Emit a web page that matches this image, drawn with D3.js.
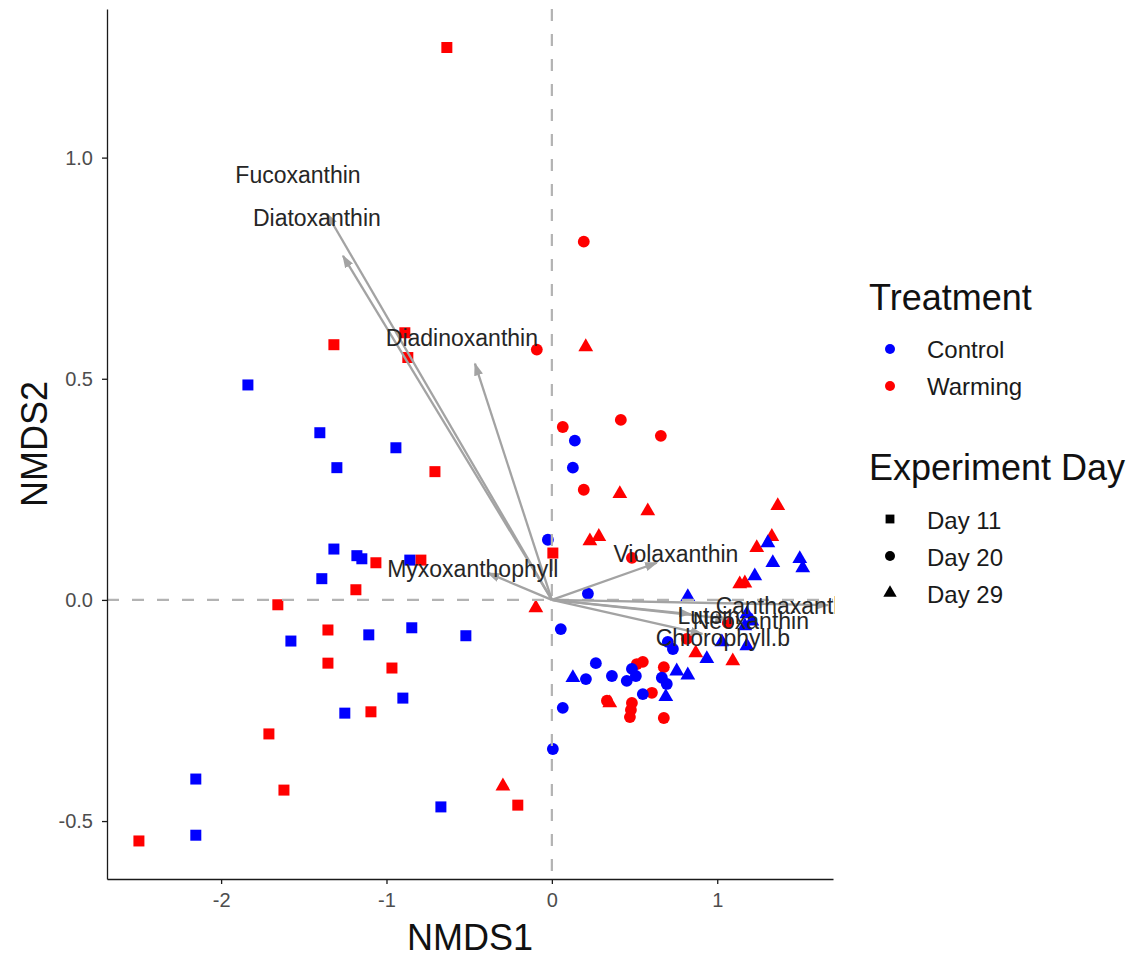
<!DOCTYPE html>
<html lang="en">
<head>
  <meta charset="UTF-8">
  <title>NMDS of pigments</title>
  <script src="https://d3js.org/d3.v7.min.js"></script>
  <style>
    body {
      margin: 0;
      background-color: #ffffff;
      font-family: "Liberation Sans", Arial, sans-serif;
    }
    .tick text {
      fill: #4d4d4d;
      font-size: 20px;
    }
    .domain, .tick line {
      stroke: #1a1a1a;
      stroke-width: 1.3px;
    }
  </style>
</head>
<body>

<div id="chart"></div>

<script>
  // ---- data (NMDS scores) ----
  // each point: [NMDS1, NMDS2]
  const day11Warming = [
    [-0.635, 1.249], [-1.318, 0.577], [-0.889, 0.604], [-0.871, 0.548], [-0.707, 0.290],
    [-0.792, 0.090], [-1.064, 0.084], [-1.185, 0.023], [-1.657, -0.011], [0.006, 0.106],
    [-1.354, -0.068], [-1.354, -0.143], [-0.967, -0.154], [-1.094, -0.253], [-1.711, -0.303],
    [-1.620, -0.430], [-2.497, -0.545], [-0.206, -0.464]
  ];
  const day11Control = [
    [-1.838, 0.486], [-1.403, 0.378], [-0.943, 0.344], [-1.300, 0.299], [-1.318, 0.115],
    [-1.179, 0.100], [-1.149, 0.093], [-0.859, 0.090], [-1.391, 0.048], [-1.578, -0.093],
    [-1.107, -0.079], [-0.847, -0.063], [-0.520, -0.081], [-0.901, -0.222], [-1.252, -0.256],
    [-2.153, -0.405], [-2.153, -0.532], [-0.671, -0.468]
  ];
  const day20Warming = [
    [0.193, 0.810], [-0.091, 0.566], [0.066, 0.391], [0.417, 0.407], [0.659, 0.371],
    [0.193, 0.249], [0.484, 0.095], [0.514, -0.145], [0.550, -0.140], [0.677, -0.152],
    [0.605, -0.210], [0.333, -0.228], [0.484, -0.233], [0.478, -0.249], [0.472, -0.265],
    [0.677, -0.267], [0.816, -0.088], [1.064, -0.052]
  ];
  const day20Control = [
    [0.139, 0.360], [0.127, 0.299], [-0.024, 0.136], [0.218, 0.014], [0.054, -0.066],
    [0.266, -0.143], [0.206, -0.179], [0.363, -0.172], [0.484, -0.156], [0.508, -0.172],
    [0.453, -0.183], [0.550, -0.213], [0.665, -0.176], [0.695, -0.190], [0.701, -0.095],
    [0.732, -0.111], [0.066, -0.244], [0.006, -0.337]
  ];
  const day29Warming = [
    [0.205, 0.572], [0.411, 0.240], [0.580, 0.201], [0.230, 0.133], [0.284, 0.143],
    [-0.097, -0.018], [-0.296, -0.421], [1.366, 0.213], [1.330, 0.143], [1.239, 0.118],
    [1.136, 0.036], [1.167, 0.038], [0.870, -0.120], [1.094, -0.138], [0.350, -0.233]
  ];
  const day29Control = [
    [0.127, -0.176], [0.755, -0.161], [0.822, -0.170], [0.689, -0.219], [0.937, -0.133],
    [0.822, 0.007], [1.306, 0.129], [1.336, 0.084], [1.499, 0.093], [1.517, 0.072],
    [1.227, 0.054], [1.179, -0.032], [1.209, -0.048], [1.167, -0.059], [1.179, -0.104],
    [1.028, -0.095]
  ];

  // pigment vectors: arrow tip and label position
  const pigments = ["Fucoxanthin", "Diatoxanthin", "Diadinoxanthin", "Myxoxanthophyll",
    "Violaxanthin", "Canthaxanthin", "Lutein", "Neoxanthin", "Chlorophyll.b"];
  const arrowTips = [
    [-1.360, 0.873], [-1.263, 0.778], [-0.465, 0.534], [-0.387, 0.061],
    [0.635, 0.084], [1.670, -0.012], [0.840, -0.032], [1.060, -0.043], [0.910, -0.077]
  ];
  const labelPos = [
    [-1.535, 0.962], [-1.421, 0.864], [-0.544, 0.593], [-0.478, 0.070],
    [0.750, 0.104], [1.439, -0.014], [0.949, -0.036], [1.203, -0.048], [1.034, -0.086]
  ];

  const treatments = ["Control", "Warming"];
  const days = ["Day 11", "Day 20", "Day 29"];
  const xTicks = [-2, -1, 0, 1];
  const yTicks = [-0.5, 0.0, 0.5, 1.0];

  // ---- layout ----
  const width = 1131;
  const height = 957;
  const margin = { left: 107, right: 298, top: 9, bottom: 78 };

  const svg = d3.select("#chart")
    .append("svg")
    .attr("width", width)
    .attr("height", height);

  const x = d3.scaleLinear()
    .domain([-2.69, 1.70])
    .range([margin.left, width - margin.right]);
  const y = d3.scaleLinear()
    .domain([-0.631, 1.336])
    .range([height - margin.bottom, margin.top]);

  const color = d3.scaleOrdinal().domain(treatments).range(["#0000ff", "#ff0000"]);
  const shape = d3.scaleOrdinal().domain(days)
    .range([d3.symbolSquare, d3.symbolCircle, d3.symbolTriangle]);
  const shapeSize = d3.scaleOrdinal().domain(days).range([121, 110, 95]);

  const defs = svg.append("defs");
  defs.append("clipPath")
    .attr("id", "panel")
    .append("rect")
    .attr("x", margin.left)
    .attr("y", margin.top)
    .attr("width", width - margin.left - margin.right + 2)
    .attr("height", height - margin.top - margin.bottom);

  const groups = [
    { t: "Warming", d: "Day 11", pts: day11Warming },
    { t: "Control", d: "Day 11", pts: day11Control },
    { t: "Warming", d: "Day 20", pts: day20Warming },
    { t: "Control", d: "Day 20", pts: day20Control },
    { t: "Warming", d: "Day 29", pts: day29Warming },
    { t: "Control", d: "Day 29", pts: day29Control }
  ];
  const points = groups.flatMap(g => g.pts.map(p => ({ x: p[0], y: p[1], t: g.t, d: g.d })));

  const panel = svg.append("g").attr("clip-path", "url(#panel)");

  // points
  panel.selectAll("path.pt")
    .data(points)
    .enter()
    .append("path")
    .attr("class", "pt")
    .attr("transform", d => `translate(${x(d.x)},${y(d.y)})`)
    .attr("d", d => d3.symbol().type(shape(d.d)).size(shapeSize(d.d))())
    .attr("fill", d => color(d.t));

  // zero lines
  panel.append("line")
    .attr("x1", x(0)).attr("x2", x(0))
    .attr("y1", margin.top).attr("y2", height - margin.bottom)
    .attr("stroke", "#b3b3b3").attr("stroke-width", 2.2)
    .attr("stroke-dasharray", "12,13");
  panel.append("line")
    .attr("x1", margin.left).attr("x2", width - margin.right)
    .attr("y1", y(0)).attr("y2", y(0))
    .attr("stroke", "#b3b3b3").attr("stroke-width", 2.2)
    .attr("stroke-dasharray", "12,13");

  // arrows
  defs.append("marker")
    .attr("id", "head")
    .attr("viewBox", "0 0 10 10")
    .attr("refX", 9).attr("refY", 5)
    .attr("markerUnits", "userSpaceOnUse")
    .attr("markerWidth", 13).attr("markerHeight", 13)
    .attr("orient", "auto")
    .append("path")
    .attr("d", "M0,1.5L10,5L0,8.5Z")
    .attr("fill", "#a3a3a3");

  panel.selectAll("line.vec")
    .data(arrowTips)
    .enter()
    .append("line")
    .attr("class", "vec")
    .attr("x1", x(0)).attr("y1", y(0))
    .attr("x2", d => x(d[0])).attr("y2", d => y(d[1]))
    .attr("stroke", "#a3a3a3")
    .attr("stroke-width", 2.3)
    .attr("marker-end", "url(#head)");

  panel.selectAll("text.lab")
    .data(pigments)
    .enter()
    .append("text")
    .attr("class", "lab")
    .attr("x", (d, i) => x(labelPos[i][0]))
    .attr("y", (d, i) => y(labelPos[i][1]))
    .attr("dy", "0.36em")
    .attr("text-anchor", "middle")
    .style("font-size", "23px")
    .style("fill", "#262626")
    .text(d => d);

  // axes
  svg.append("g")
    .attr("transform", `translate(0,${height - margin.bottom})`)
    .call(d3.axisBottom(x).tickValues(xTicks).tickSize(5).tickSizeOuter(0).tickPadding(9)
      .tickFormat(d => String(d)));
  svg.append("g")
    .attr("transform", `translate(${margin.left},0)`)
    .call(d3.axisLeft(y).tickValues(yTicks).tickSize(5).tickSizeOuter(0).tickPadding(9)
      .tickFormat(d => d.toFixed(1)));

  svg.append("text")
    .attr("x", (margin.left + width - margin.right) / 2)
    .attr("y", 950)
    .attr("text-anchor", "middle")
    .style("font-size", "36px")
    .style("fill", "#111")
    .text("NMDS1");
  svg.append("text")
    .attr("transform", "translate(47,444) rotate(-90)")
    .attr("text-anchor", "middle")
    .style("font-size", "36px")
    .style("fill", "#111")
    .text("NMDS2");

  // legends
  const legend = svg.append("g");
  legend.append("text")
    .attr("x", 869).attr("y", 310)
    .style("font-size", "36px").style("fill", "#111")
    .text("Treatment");
  treatments.forEach((t, i) => {
    legend.append("circle")
      .attr("cx", 890).attr("cy", 349 + i * 37).attr("r", 5)
      .attr("fill", color(t));
    legend.append("text")
      .attr("x", 927).attr("y", 358 + i * 37)
      .style("font-size", "24px").style("fill", "#1a1a1a")
      .text(t);
  });

  legend.append("text")
    .attr("x", 869).attr("y", 480)
    .style("font-size", "36px").style("fill", "#111")
    .text("Experiment Day");
  days.forEach((d, i) => {
    legend.append("path")
      .attr("transform", `translate(890,${519 + i * 37})`)
      .attr("d", d3.symbol().type(shape(d)).size(78)())
      .attr("fill", "#000");
    legend.append("text")
      .attr("x", 927).attr("y", 529 + i * 37)
      .style("font-size", "24px").style("fill", "#1a1a1a")
      .text(d);
  });
</script>

</body>
</html>
